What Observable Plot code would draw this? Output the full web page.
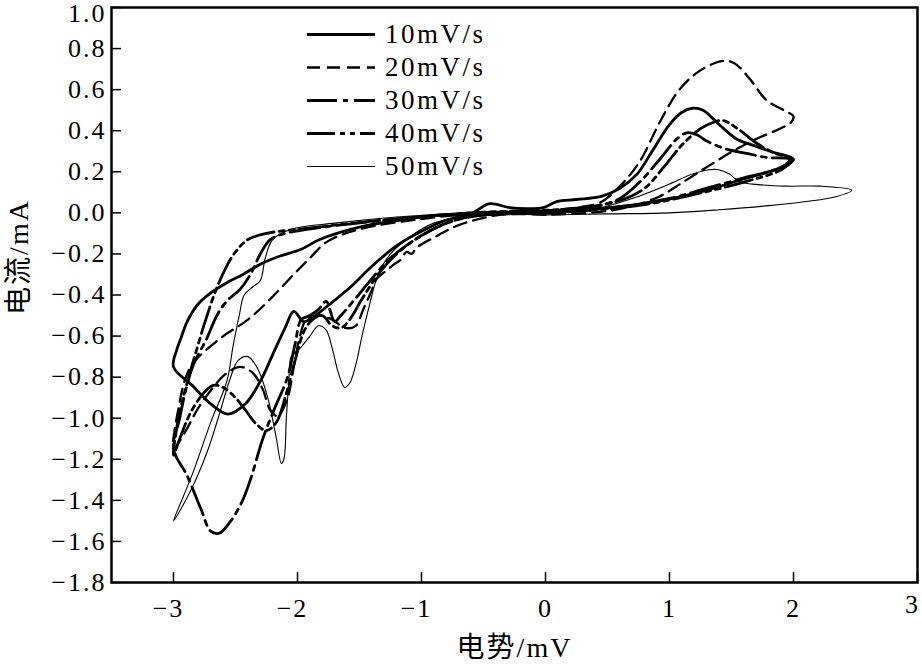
<!DOCTYPE html>
<html>
<head>
<meta charset="utf-8">
<script src="https://cdn.jsdelivr.net/npm/d3@7"></script>
<script src="https://cdn.jsdelivr.net/npm/@observablehq/plot@0.6"></script>
<style>
  body { margin: 0; background: #fff; }
  #wrap { position: relative; width: 922px; height: 664px; }
  #legend { position: absolute; left: 307px; top: 18px; font-family: "Liberation Serif", "Times New Roman", serif; font-size: 27px; letter-spacing: 2.5px; color: #000; }
  .row { display: flex; align-items: center; height: 33px; }
  .row span { margin-left: 10px; line-height: 33px; }
</style>
</head>
<body>
<div id="wrap"><div id="chart"></div><div id="legend"></div></div>
<script>
// ---- axis ticks & labels ----
const xTicks = [-3, -2, -1, 0, 1, 2, 3];
const yTicks = [1.0, 0.8, 0.6, 0.4, 0.2, 0.0, -0.2, -0.4, -0.6, -0.8, -1.0, -1.2, -1.4, -1.6, -1.8];
const xLabel = "电势/mV";
const yLabel = "电流/mA";
const seriesNames = ["10mV/s", "20mV/s", "30mV/s", "40mV/s", "50mV/s"];

// ---- series: [potential (mV), current (mA)] along each cyclic scan ----
const cv10 = [
  [0.0, 0.0], [-0.3, -0.005], [-0.5, -0.01], [-0.77, -0.03], [-1.0, -0.09], [-1.2, -0.16], [-1.4, -0.26],
  [-1.57, -0.36], [-1.75, -0.45], [-1.88, -0.51], [-1.95, -0.53], [-2.03, -0.48], [-2.1, -0.56], [-2.2, -0.69],
  [-2.3, -0.82], [-2.42, -0.93], [-2.56, -0.98], [-2.7, -0.93], [-2.85, -0.84], [-3.0, -0.75],
  [-2.97, -0.66], [-2.94, -0.61], [-2.89, -0.53], [-2.81, -0.45], [-2.70, -0.39], [-2.57, -0.34], [-2.44, -0.30],
  [-2.30, -0.25], [-2.14, -0.21], [-1.98, -0.18], [-1.82, -0.13], [-1.5, -0.07], [-1.17, -0.035], [-0.85, -0.01],
  [-0.61, -0.005], [-0.45, 0.045], [-0.29, 0.025], [-0.15, 0.02], [-0.02, 0.025], [0.09, 0.055], [0.25, 0.065],
  [0.45, 0.08], [0.6, 0.12], [0.74, 0.19], [0.86, 0.30], [1.0, 0.43], [1.1, 0.49], [1.19, 0.51], [1.27, 0.50],
  [1.40, 0.43], [1.54, 0.36], [1.67, 0.33], [1.81, 0.30], [2.0, 0.26],
  [1.89, 0.22], [1.57, 0.16], [1.24, 0.10], [0.84, 0.05], [0.44, 0.02], [0.0, 0.0]
];
const cv20 = [
  [0.0, -0.01], [-0.37, -0.01], [-0.7, -0.06], [-0.9, -0.12], [-1.04, -0.17], [-1.08, -0.2], [-1.12, -0.19],
  [-1.17, -0.23], [-1.22, -0.25], [-1.28, -0.28], [-1.36, -0.32], [-1.41, -0.39], [-1.47, -0.47], [-1.53, -0.55],
  [-1.62, -0.56], [-1.72, -0.52], [-1.85, -0.5], [-1.93, -0.52], [-1.98, -0.6], [-2.03, -0.75], [-2.08, -0.9],
  [-2.16, -0.99], [-2.22, -0.96], [-2.28, -0.86], [-2.36, -0.78], [-2.46, -0.75], [-2.57, -0.78], [-2.68, -0.85],
  [-2.8, -0.95], [-2.9, -1.06], [-3.0, -1.15],
  [-2.95, -0.92], [-2.9, -0.8], [-2.84, -0.73], [-2.62, -0.61], [-2.4, -0.52], [-2.22, -0.42], [-2.03, -0.3],
  [-1.9, -0.22], [-1.76, -0.14], [-1.5, -0.08], [-1.0, -0.03], [-0.5, 0.0], [0.0, 0.01], [0.3, 0.03],
  [0.44, 0.05], [0.6, 0.13], [0.76, 0.25], [0.92, 0.44], [1.08, 0.6], [1.24, 0.69], [1.43, 0.74], [1.52, 0.73],
  [1.65, 0.65], [1.78, 0.55], [1.92, 0.5], [2.0, 0.47], [1.98, 0.44],
  [1.89, 0.41], [1.7, 0.36], [1.51, 0.3], [1.32, 0.23], [1.11, 0.15], [0.92, 0.08], [0.68, 0.03], [0.44, 0.005], [0.0, -0.01]
];
const cv30 = [
  [0.0, 0.0], [-0.5, -0.01], [-0.8, -0.05], [-1.05, -0.13], [-1.25, -0.22], [-1.4, -0.32], [-1.55, -0.43],
  [-1.65, -0.5], [-1.7, -0.53], [-1.74, -0.47], [-1.77, -0.43], [-1.83, -0.47], [-1.9, -0.5], [-1.97, -0.52],
  [-2.02, -0.64], [-2.08, -0.8], [-2.19, -0.96], [-2.28, -1.1], [-2.38, -1.3], [-2.45, -1.41], [-2.55, -1.51],
  [-2.63, -1.56], [-2.7, -1.55], [-2.78, -1.44], [-2.89, -1.28], [-3.0, -1.15],
  [-2.95, -1.0], [-2.9, -0.86], [-2.84, -0.74], [-2.73, -0.61], [-2.65, -0.5], [-2.57, -0.43], [-2.46, -0.37],
  [-2.38, -0.3], [-2.3, -0.2], [-2.22, -0.13], [-2.1, -0.1], [-1.8, -0.07], [-1.2, -0.03], [-0.6, 0.0],
  [0.0, 0.01], [0.4, 0.03], [0.6, 0.07], [0.76, 0.15], [0.92, 0.26], [1.06, 0.36], [1.14, 0.39], [1.22, 0.38],
  [1.30, 0.35], [1.46, 0.31], [1.62, 0.29], [1.78, 0.27], [1.97, 0.26],
  [1.9, 0.22], [1.6, 0.17], [1.3, 0.12], [1.0, 0.07], [0.6, 0.03], [0.0, 0.0]
];
const cv40 = [
  [0.0, 0.0], [-0.5, -0.01], [-0.75, -0.04], [-1.0, -0.11], [-1.2, -0.2], [-1.35, -0.3], [-1.48, -0.42],
  [-1.58, -0.52], [-1.65, -0.56], [-1.72, -0.55], [-1.8, -0.5], [-1.88, -0.52], [-1.95, -0.58], [-2.02, -0.72],
  [-2.1, -0.9], [-2.17, -1.02], [-2.25, -1.06], [-2.33, -1.03], [-2.42, -0.96], [-2.5, -0.9], [-2.6, -0.85],
  [-2.68, -0.84], [-2.76, -0.88], [-2.86, -0.97], [-2.95, -1.1], [-3.0, -1.18],
  [-2.96, -1.0], [-2.9, -0.85], [-2.82, -0.68], [-2.74, -0.52], [-2.66, -0.38], [-2.58, -0.27], [-2.5, -0.19],
  [-2.4, -0.13], [-2.25, -0.1], [-2.0, -0.08], [-1.7, -0.06], [-1.3, -0.035], [-0.9, -0.015], [-0.6, 0.0],
  [-0.2, 0.01], [0.2, 0.02], [0.6, 0.06], [0.8, 0.12], [0.95, 0.22], [1.1, 0.33], [1.25, 0.41], [1.35, 0.44],
  [1.43, 0.45], [1.55, 0.41], [1.7, 0.34], [1.85, 0.29], [1.99, 0.26],
  [1.9, 0.21], [1.6, 0.15], [1.2, 0.09], [0.8, 0.04], [0.3, 0.01], [0.0, 0.0]
];
const cv50 = [
  [0.0, -0.01], [-0.5, -0.01], [-0.9, -0.05], [-1.1, -0.12], [-1.25, -0.2], [-1.35, -0.3], [-1.42, -0.45],
  [-1.48, -0.6], [-1.53, -0.74], [-1.58, -0.83], [-1.62, -0.85], [-1.67, -0.78], [-1.72, -0.66], [-1.77, -0.57],
  [-1.83, -0.55], [-1.9, -0.6], [-1.98, -0.66], [-2.05, -0.7], [-2.07, -0.82], [-2.09, -1.0], [-2.11, -1.2],
  [-2.13, -1.22], [-2.17, -1.1], [-2.24, -0.9], [-2.32, -0.76], [-2.4, -0.7], [-2.48, -0.72], [-2.55, -0.82],
  [-2.63, -0.98], [-2.72, -1.15], [-2.82, -1.3], [-2.92, -1.42], [-3.0, -1.5],
  [-2.92, -1.38], [-2.84, -1.26], [-2.7, -1.02], [-2.57, -0.82], [-2.52, -0.65], [-2.47, -0.5], [-2.43, -0.4],
  [-2.36, -0.36], [-2.3, -0.33], [-2.26, -0.22], [-2.2, -0.13], [-2.05, -0.08], [-1.7, -0.05], [-1.2, -0.02],
  [-0.6, 0.0], [0.0, 0.005], [0.4, 0.02], [0.7, 0.07], [1.0, 0.14], [1.19, 0.19], [1.32, 0.21], [1.4, 0.21],
  [1.48, 0.19], [1.57, 0.15], [1.67, 0.14], [1.94, 0.13], [2.21, 0.13], [2.47, 0.11],
  [2.35, 0.08], [2.1, 0.055], [1.8, 0.035], [1.4, 0.015], [1.0, 0.0], [0.5, -0.005], [0.0, -0.01]
];

// ---- styles per series ----
const series = [
  {name: seriesNames[0], data: cv10, w: 2.8, dash: null},
  {name: seriesNames[1], data: cv20, w: 2.3, dash: "13,7"},
  {name: seriesNames[2], data: cv30, w: 2.8, dash: "30,6,5,6"},
  {name: seriesNames[3], data: cv40, w: 2.8, dash: "28,5,5,5,5,5"},
  {name: seriesNames[4], data: cv50, w: 1.1, dash: null}
];

const fmtY = d => (d < -1e-9 ? "\u2212" : "") + Math.abs(d).toFixed(1);
const fmtX = d => (d < 0 ? "\u2212" : "") + Math.abs(d).toFixed(0);
const blank = () => "";

const font = '"Liberation Serif", "Times New Roman", "Noto Sans CJK SC", serif';

const chart = Plot.plot({
  width: 922,
  height: 664,
  marginLeft: 111,
  marginRight: 5,
  marginTop: 7,
  marginBottom: 82,
  style: {fontFamily: font, fontSize: "26px", letterSpacing: "2px", color: "#000", background: "#fff", overflow: "visible"},
  x: {domain: [-3.5, 3]},
  y: {domain: [-1.8, 1.0]},
  marks: [
    ...series.map(s => Plot.line(s.data, {
      x: d => d[0], y: d => d[1], curve: "catmull-rom",
      stroke: "#000", strokeWidth: s.w, strokeDasharray: s.dash, strokeLinejoin: "round"
    })),
    // inward tick marks
    Plot.axisX({ticks: xTicks, tickSize: -10, tickFormat: blank, strokeWidth: 1.5, label: null}),
    Plot.axisY({ticks: yTicks, tickSize: -10, tickFormat: blank, strokeWidth: 1.5, label: null}),
    // tick labels
    Plot.axisX({ticks: xTicks.filter(d => d < 0), tickSize: 0, tickPadding: 16, dx: -5, tickFormat: fmtX, label: null, fontSize: 26}),
    Plot.axisX({ticks: xTicks.filter(d => d >= 0 && d < 3), tickSize: 0, tickPadding: 16, tickFormat: fmtX, label: null, fontSize: 26}),
    Plot.axisX({ticks: [3], tickSize: 0, tickPadding: 12, dx: -5, tickFormat: fmtX, label: null, fontSize: 26}),
    Plot.axisY({ticks: yTicks.filter(d => d < 0.99), tickSize: 0, tickPadding: 5, tickFormat: fmtY, label: null, fontSize: 26}),
    Plot.axisY({ticks: [1.0], tickSize: 0, tickPadding: 5, dy: 6, tickFormat: fmtY, label: null, fontSize: 26}),
    Plot.frame({stroke: "#000", strokeWidth: 2.5}),
    // axis titles
    Plot.text([xLabel], {text: d => d, frameAnchor: "bottom", dy: 66, textAnchor: "middle", lineAnchor: "middle", fontSize: 28, fontFamily: font}),
    Plot.text([yLabel], {text: d => d, frameAnchor: "left", dx: -92, dy: -38, rotate: -90, textAnchor: "middle", lineAnchor: "middle", fontSize: 28, fontFamily: font})
  ]
});
document.getElementById("chart").appendChild(chart);

// ---- legend ----
const legend = document.getElementById("legend");
for (const s of series) {
  const row = document.createElement("div");
  row.className = "row";
  const ns = "http://www.w3.org/2000/svg";
  const svg = document.createElementNS(ns, "svg");
  svg.setAttribute("width", 68);
  svg.setAttribute("height", 33);
  const ln = document.createElementNS(ns, "line");
  ln.setAttribute("x1", 0); ln.setAttribute("x2", 68);
  ln.setAttribute("y1", 16.5); ln.setAttribute("y2", 16.5);
  ln.setAttribute("stroke", "#000");
  ln.setAttribute("stroke-width", s.w);
  if (s.dash) ln.setAttribute("stroke-dasharray", s.dash);
  svg.appendChild(ln);
  row.appendChild(svg);
  const t = document.createElement("span");
  t.textContent = s.name;
  row.appendChild(t);
  legend.appendChild(row);
}
</script>
</body>
</html>
